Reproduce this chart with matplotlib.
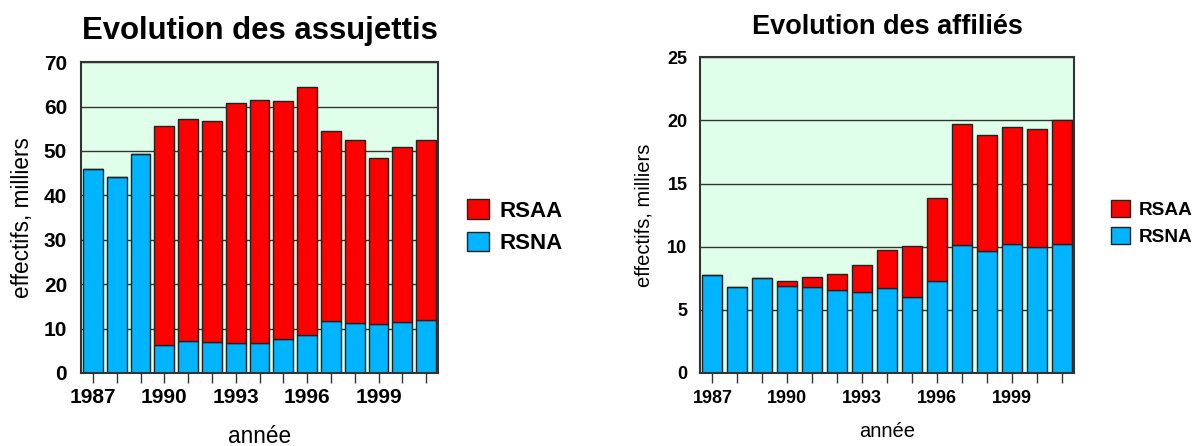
import matplotlib
matplotlib.use('Agg')
import matplotlib.pyplot as plt
import numpy as np

plt.rcParams['font.family'] = ['Liberation Sans', 'DejaVu Sans']

annees = list(range(1987, 2002))

# assujettis (milliers)
assuj_rsna = [46.0, 44.1, 49.3, 6.3, 7.2, 6.9, 6.8, 6.75, 7.6, 8.5, 11.7, 11.2, 10.95, 11.55, 11.9]
assuj_total = [46.0, 44.1, 49.3, 55.7, 57.2, 56.8, 60.7, 61.5, 61.2, 64.3, 54.5, 52.4, 48.4, 51.0, 52.5]
assuj_rsaa = [t - b for t, b in zip(assuj_total, assuj_rsna)]

# affiliés (milliers)
affil_rsna = [7.73, 6.8, 7.49, 6.88, 6.8, 6.6, 6.41, 6.7, 6.01, 7.3, 10.15, 9.68, 10.2, 9.94, 10.25]
affil_total = [7.73, 6.8, 7.49, 7.3, 7.6, 7.86, 8.57, 9.73, 10.05, 13.85, 19.75, 18.86, 19.49, 19.28, 20.0]
affil_rsaa = [t - b for t, b in zip(affil_total, affil_rsna)]

rouge = '#ff0000'
bleu = '#00b4ff'
fond = '#e0ffea'

fig = plt.figure(figsize=(12, 4.46), dpi=100)


def graphe(ax, rsna, rsaa, titre, ymax, pas, largeur, fs_tick, fs_lab, fs_titre,
           titre_pad, ypad, ylabpad, xpad, xlabpad, leg_pos, fs_leg):
    x = np.arange(len(annees))
    ax.set_facecolor(fond)
    ax.set_axisbelow(True)
    ax.grid(axis='y', color='#333333', linewidth=1)
    ax.bar(x, rsna, width=largeur, color=bleu, edgecolor='#222222', linewidth=1, label='RSNA')
    ax.bar(x, rsaa, bottom=rsna, width=largeur, color=rouge, edgecolor='#222222', linewidth=1, label='RSAA')
    ax.set_xlim(-0.5, len(annees) - 0.5)
    ax.set_ylim(0, ymax)
    ax.set_yticks(np.arange(0, ymax + 1, pas))
    ax.set_xticks(x)
    ax.set_xticklabels([str(a) if (a - 1987) % 3 == 0 else '' for a in annees])
    ax.tick_params(axis='x', direction='out', length=7, width=1, color='#333333', labelsize=fs_tick, pad=xpad)
    ax.tick_params(axis='y', length=0, labelsize=fs_tick, pad=ypad)
    for lab in ax.get_xticklabels() + ax.get_yticklabels():
        lab.set_fontweight('bold')
    for sp in ax.spines.values():
        sp.set_color('#333333')
        sp.set_linewidth(1.5)
    ax.set_title(titre, fontsize=fs_titre, fontweight='bold', pad=titre_pad)
    ax.set_ylabel('effectifs, milliers', fontsize=fs_lab, labelpad=ylabpad)
    ax.set_xlabel('année', fontsize=fs_lab, labelpad=xlabpad)
    h, l = ax.get_legend_handles_labels()
    ax.legend(h[::-1], l[::-1], loc='center left', bbox_to_anchor=leg_pos, frameon=False,
              prop={'weight': 'bold', 'size': fs_leg}, handlelength=1.0, handleheight=1.0,
              handletextpad=0.45, labelspacing=0.45, borderpad=0, borderaxespad=0)


ax1 = fig.add_axes([0.0675, 0.1637, 0.2975, 0.697])
graphe(ax1, assuj_rsna, assuj_rsaa, 'Evolution des assujettis', 70, 10, 0.84,
       15, 16.3, 22.4, 17, 10, 7, 4, 13, (1.081, 0.471), 16)

ax2 = fig.add_axes([0.5833, 0.1637, 0.3117, 0.708])
graphe(ax2, affil_rsna, affil_rsaa, 'Evolution des affiliés', 25, 5, 0.8,
       13, 14.5, 19.5, 16.5, 9, 10, 5, 11, (1.099, 0.475), 13.7)

fig.savefig('out.png', dpi=100)
